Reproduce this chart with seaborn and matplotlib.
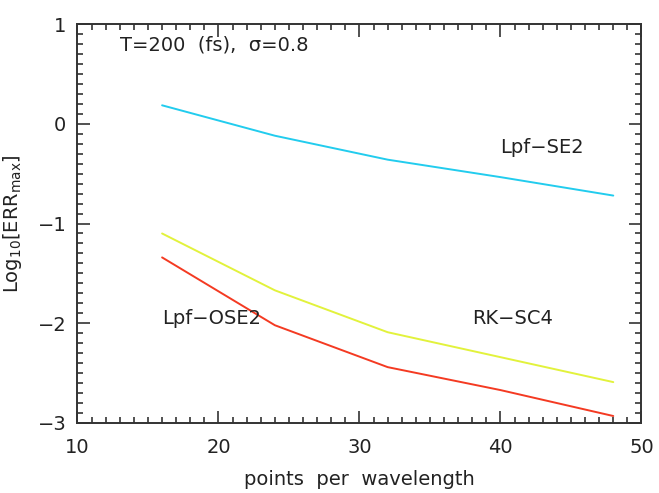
import matplotlib
matplotlib.use("Agg")
import matplotlib.pyplot as plt
from matplotlib.ticker import MultipleLocator
import seaborn as sns
import pandas as pd

# === Data ===
ppw = [16, 24, 32, 40, 48]
lpf_se2 = [0.185, -0.12, -0.36, -0.535, -0.72]
rk_sc4 = [-1.10, -1.67, -2.09, -2.34, -2.59]
lpf_ose2 = [-1.34, -2.02, -2.44, -2.67, -2.93]

series = {"Lpf-SE2": lpf_se2, "RK-SC4": rk_sc4, "Lpf-OSE2": lpf_ose2}
colors = {"Lpf-SE2": "#22ccee", "RK-SC4": "#e2f23c", "Lpf-OSE2": "#f43a22"}

df = pd.concat([pd.DataFrame({"ppw": ppw, "err": v, "scheme": k}) for k, v in series.items()])

sns.set_style("ticks")
plt.rcParams["font.family"] = ["DejaVu Sans"]
plt.rcParams["mathtext.default"] = "regular"

fs = 14
txt = "#222222"

fig = plt.figure(figsize=(6.59, 4.93), dpi=100)
ax = fig.add_axes([0.1176, 0.142, 0.8558, 0.8093])

sns.lineplot(data=df, x="ppw", y="err", hue="scheme", palette=colors,
             linewidth=1.4, legend=False, ax=ax)

ax.set_xlim(10, 50)
ax.set_ylim(-3, 1)
ax.xaxis.set_major_locator(MultipleLocator(10))
ax.xaxis.set_minor_locator(MultipleLocator(1))
ax.yaxis.set_major_locator(MultipleLocator(1))
ax.yaxis.set_minor_locator(MultipleLocator(0.1))
ax.tick_params(which="both", direction="in", top=True, right=True, color="#333333", width=1.2)
ax.tick_params(which="major", length=9, labelsize=fs, labelcolor=txt)
ax.tick_params(axis="x", which="major", pad=11)
ax.tick_params(axis="y", which="major", pad=8)
ax.tick_params(which="minor", length=4.5)
for s in ax.spines.values():
    s.set_color("#333333")
    s.set_linewidth(1.4)

ax.set_xlabel("points  per  wavelength", fontsize=fs, color=txt, labelpad=9)
ax.set_ylabel("Log$_{10}$[ERR$_{max}$]", fontsize=fs, color=txt, labelpad=10)

ax.text(13.0, 0.79, "T=200  (fs),  \u03c3=0.8", fontsize=fs, va="center", color=txt)
ax.text(40.0, -0.24, "Lpf\u2212SE2", fontsize=fs, va="center", color=txt)
ax.text(16.0, -1.95, "Lpf\u2212OSE2", fontsize=fs, va="center", color=txt)
ax.text(38.0, -1.95, "RK\u2212SC4", fontsize=fs, va="center", color=txt)

fig.savefig("out.png", dpi=100)
